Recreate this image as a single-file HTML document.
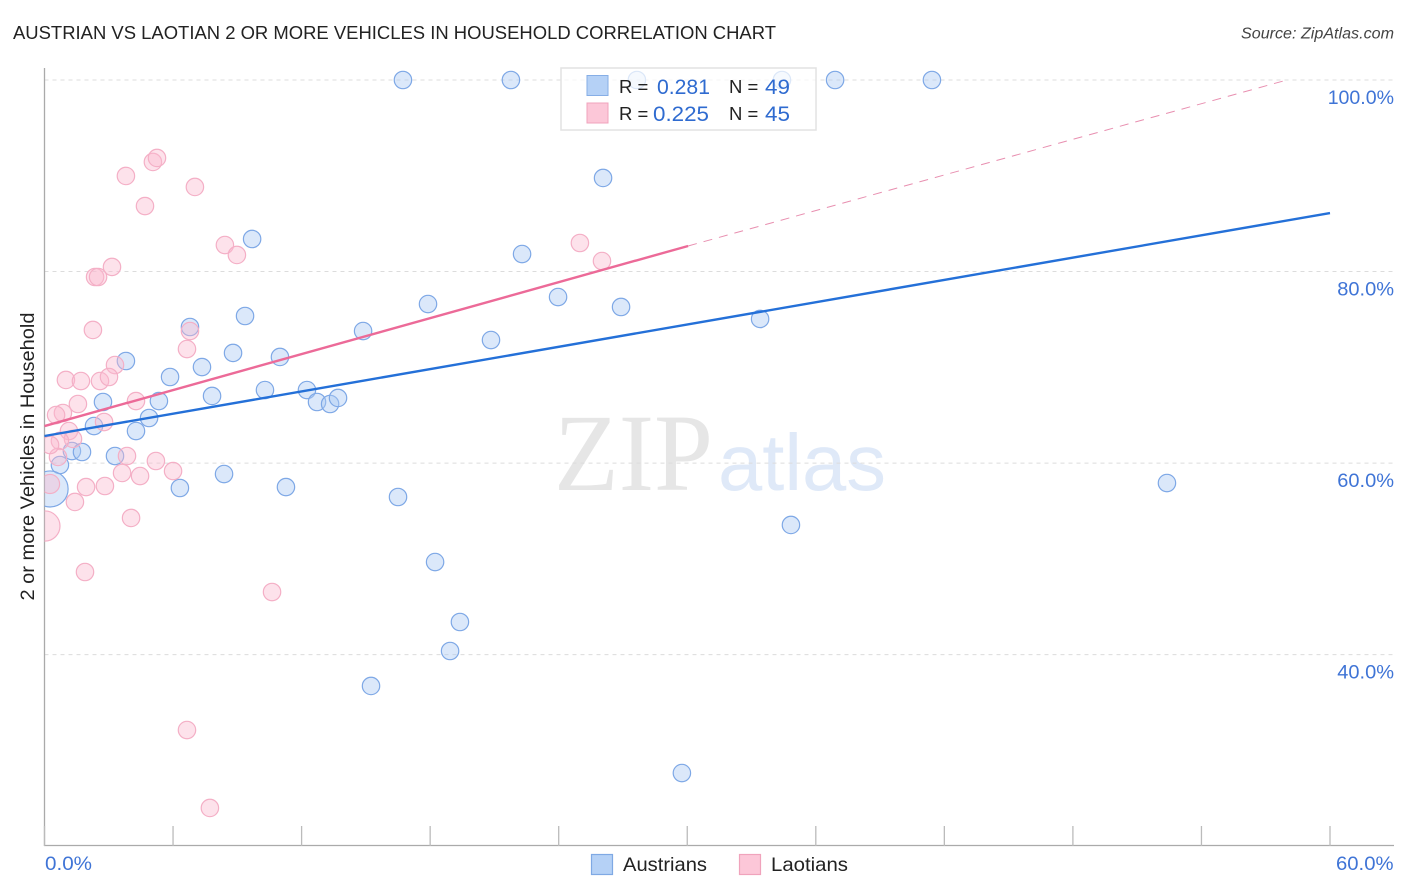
<!DOCTYPE html>
<html lang="en">
<head>
<meta charset="utf-8">
<title>Austrian vs Laotian 2 or more Vehicles in Household Correlation Chart</title>
<style>
html,body{margin:0;padding:0;background:#fff;width:1406px;height:892px;overflow:hidden}
svg{display:block;font-family:"Liberation Sans",sans-serif}
</style>
</head>
<body>
<svg id="chart" xmlns="http://www.w3.org/2000/svg" width="1406" height="892" viewBox="0 0 1406 892">
  <defs>
    <clipPath id="plot-clip"><rect x="44.5" y="60" width="1350" height="786"/></clipPath>
  </defs>
  <text x="13" y="39" font-size="18.5" fill="#222" textLength="763" lengthAdjust="spacingAndGlyphs">AUSTRIAN VS LAOTIAN 2 OR MORE VEHICLES IN HOUSEHOLD CORRELATION CHART</text>
  <text x="1241" y="38.5" font-size="15.5" font-style="italic" fill="#444" textLength="153" lengthAdjust="spacingAndGlyphs">Source: ZipAtlas.com</text>

  <g>
    <text x="554" y="490" font-family="'Liberation Serif',serif" font-size="110" fill="#e6e6e6" textLength="159" lengthAdjust="spacingAndGlyphs">ZIP</text>
    <text x="718" y="490" font-size="80" fill="#dfe9f8" textLength="168" lengthAdjust="spacingAndGlyphs">atlas</text>
  </g>

  <g id="grid"></g>
  <g id="axes"></g>
  <g id="points" clip-path="url(#plot-clip)"></g>
  <g id="trends"></g>

  <text transform="translate(34 456.5) rotate(-90)" font-size="19" fill="#222" text-anchor="middle" textLength="288" lengthAdjust="spacingAndGlyphs">2 or more Vehicles in Household</text>

  <g>
    <rect x="561" y="68" width="255" height="62" fill="#fff" fill-opacity="0.72" stroke="#e2e2e2" stroke-width="1.5"/>
    <rect x="587" y="75.5" width="21" height="20" fill="#b5d1f6" stroke="#86aee6" stroke-width="1"/>
    <rect x="587" y="103" width="21" height="20" fill="#fcc7d8" stroke="#f0a3bc" stroke-width="1"/>
    <text x="619" y="93" font-size="18.5" fill="#222">R =</text>
    <text x="657" y="94" font-size="21" fill="#2f6bd0" textLength="53" lengthAdjust="spacingAndGlyphs">0.281</text>
    <text x="729" y="93" font-size="18.5" fill="#222">N =</text>
    <text x="765" y="94" font-size="21" fill="#2f6bd0" textLength="25" lengthAdjust="spacingAndGlyphs">49</text>
    <text x="619" y="120" font-size="18.5" fill="#222">R =</text>
    <text x="653" y="121" font-size="21" fill="#2f6bd0" textLength="56" lengthAdjust="spacingAndGlyphs">0.225</text>
    <text x="729" y="120" font-size="18.5" fill="#222">N =</text>
    <text x="765" y="121" font-size="21" fill="#2f6bd0" textLength="25" lengthAdjust="spacingAndGlyphs">45</text>
  </g>

  <g>
    <rect x="591.5" y="854.5" width="21" height="20" fill="#b5d1f6" stroke="#7fa9e4" stroke-width="1.2"/>
    <text x="623" y="871" font-size="19.5" fill="#222" textLength="84" lengthAdjust="spacingAndGlyphs">Austrians</text>
    <rect x="739.5" y="854.5" width="21" height="20" fill="#fcc7d8" stroke="#f0a3bc" stroke-width="1.2"/>
    <text x="771" y="871" font-size="19.5" fill="#222" textLength="77" lengthAdjust="spacingAndGlyphs">Laotians</text>
  </g>
</svg>
<script>
const austrianX = [16.73,21.77,27.65,34.42,36.90,41.42,26.07,9.69,22.29,23.97,17.90,26.91,9.36,33.40,14.87,6.79,20.84,3.80,8.80,10.99,7.35,5.86,10.29,7.82,12.25,12.72,13.33,13.70,5.34,2.73,4.88,2.31,4.27,1.28,1.75,3.29,0.72,8.38,6.32,11.27,16.50,52.39,34.84,18.23,19.39,18.93,15.24,29.75,0.26];
const austrianY = [100,100,100,100,100,100,89.77,83.40,81.83,77.34,76.61,76.30,75.36,75.05,73.79,74.21,72.85,70.66,71.50,71.08,70.03,68.99,67.63,67.01,67.63,66.38,66.17,66.80,66.48,66.38,64.71,63.87,63.35,61.26,61.16,60.74,59.80,58.86,57.40,57.50,56.46,57.92,53.54,49.67,43.41,40.38,36.73,27.64,57.30];
const austrianWeight = [1,1,1,1,1,1,1,1,1,1,1,1,1,1,1,1,1,1,1,1,1,1,1,1,1,1,1,1,1,1,1,1,1,1,1,1,1,1,1,1,1,1,1,1,1,1,1,1,4.3];
const laotianX = [3.80,5.06,5.25,7.02,4.69,8.42,8.98,24.99,26.02,3.15,2.36,2.50,2.26,6.79,6.65,3.29,1.00,1.70,2.59,3.01,4.27,1.56,0.86,0.54,2.78,1.14,1.33,0.72,0.63,3.85,5.20,6.00,3.62,4.46,1.94,2.82,0.26,1.42,4.04,0.02,1.89,10.62,6.65,7.72,0.26];
const laotianY = [89.98,91.44,91.86,88.83,86.84,82.77,81.73,82.98,81.10,80.48,79.43,79.43,73.90,73.79,71.91,70.24,68.68,68.57,68.57,68.99,66.48,66.17,65.23,65.02,64.29,63.35,62.52,62.31,60.64,60.74,60.22,59.17,58.97,58.65,57.50,57.61,57.82,55.94,54.27,53.43,48.63,46.54,32.13,23.99,61.89];
const laotianWeight = [1,1,1,1,1,1,1,1,1,1,1,1,1,1,1,1,1,1,1,1,1,1,1,1,1,1,1,1,1,1,1,1,1,1,1,1,1.2,1,1,3,1,1,1,1,1];
const austrianTrendX = [0,60];
const austrianTrendY = [62.83,86.11];
const laotianTrendX = [0,30.04];
const laotianTrendY = [63.87,82.67];
const laotianExtensionX = [30.04,57.99];
const laotianExtensionY = [82.67,100];
const yTicks = [100,80,60,40];
const yTickLabels = ['100.0%','80.0%','60.0%','40.0%'];
const xTicks = [0,6,12,18,24,30,36,42,48,54,60];
const xEndLabels = ['0.0%','60.0%'];

const NS = 'http://www.w3.org/2000/svg';
const xScale = v => 44.5 + v * 21.425;
const yScale = v => 80 + (100 - v) * 9.5775;
const BASE_R = 8.7;

function make(parent, tag, attrs) {
  const el = document.createElementNS(NS, tag);
  for (const k in attrs) el.setAttribute(k, attrs[k]);
  parent.appendChild(el);
  return el;
}

const gridG = document.getElementById('grid');
const axesG = document.getElementById('axes');
const pointsG = document.getElementById('points');
const trendsG = document.getElementById('trends');

yTicks.forEach((t, i) => {
  const line = make(gridG, 'line', {x1: 44.5, x2: 1394, y1: yScale(t), y2: yScale(t), stroke: '#dcdcdc', 'stroke-width': 1, 'stroke-dasharray': '4 4'});
  
  
  const label = make(axesG, 'text', {x: 1394, y: yScale(t) + 24, 'font-size': 19.5, fill: '#3f74d6', 'text-anchor': 'end', textLength: yTickLabels[i].length * 9.55 + 9, lengthAdjust: 'spacingAndGlyphs'});
  label.textContent = yTickLabels[i];
  
  
});

const yAxis = make(axesG, 'line', {x1: 44.5, x2: 44.5, y1: 68, y2: 846, stroke: '#aaa', 'stroke-width': 1.3});


const xAxis = make(axesG, 'line', {x1: 44, x2: 1394, y1: 845.5, y2: 845.5, stroke: '#aaa', 'stroke-width': 1.3});



xTicks.forEach(t => {
  const tick = make(axesG, 'line', {x1: xScale(t), x2: xScale(t), y1: 826, y2: 846, stroke: '#bbb', 'stroke-width': 1.3});
  
  
});

const xStart = make(axesG, 'text', {x: 45, y: 870, 'font-size': 19.5, fill: '#3f74d6', textLength: 47, lengthAdjust: 'spacingAndGlyphs'});
xStart.textContent = xEndLabels[0];


const xEnd = make(axesG, 'text', {x: 1336, y: 870, 'font-size': 19.5, fill: '#3f74d6', textLength: 57.5, lengthAdjust: 'spacingAndGlyphs'});
xEnd.textContent = xEndLabels[1];



austrianX.forEach((x, i) => {
  const dot = make(pointsG, 'circle', {cx: xScale(x), cy: yScale(austrianY[i]), r: BASE_R * Math.sqrt(austrianWeight[i]), fill: '#a9c9f3', 'fill-opacity': 0.42, stroke: '#7ea8e6', 'stroke-width': 1.2});
  
  
});
laotianX.forEach((x, i) => {
  const dot = make(pointsG, 'circle', {cx: xScale(x), cy: yScale(laotianY[i]), r: BASE_R * Math.sqrt(laotianWeight[i]), fill: '#fab9cf', 'fill-opacity': 0.42, stroke: '#f4afc6', 'stroke-width': 1.2});
  
  
});

const blueTrend = make(trendsG, 'line', {x1: xScale(austrianTrendX[0]), y1: yScale(austrianTrendY[0]), x2: xScale(austrianTrendX[1]), y2: yScale(austrianTrendY[1]), stroke: '#2470d8', 'stroke-width': 2.4});


const pinkTrend = make(trendsG, 'line', {x1: xScale(laotianTrendX[0]), y1: yScale(laotianTrendY[0]), x2: xScale(laotianTrendX[1]), y2: yScale(laotianTrendY[1]), stroke: '#ec6a98', 'stroke-width': 2.4});


const pinkExt = make(trendsG, 'line', {x1: xScale(laotianExtensionX[0]), y1: yScale(laotianExtensionY[0]), x2: xScale(laotianExtensionX[1]), y2: yScale(laotianExtensionY[1]), stroke: '#e88fb0', 'stroke-width': 1, 'stroke-dasharray': '9 7'});


</script>
</body>
</html>
